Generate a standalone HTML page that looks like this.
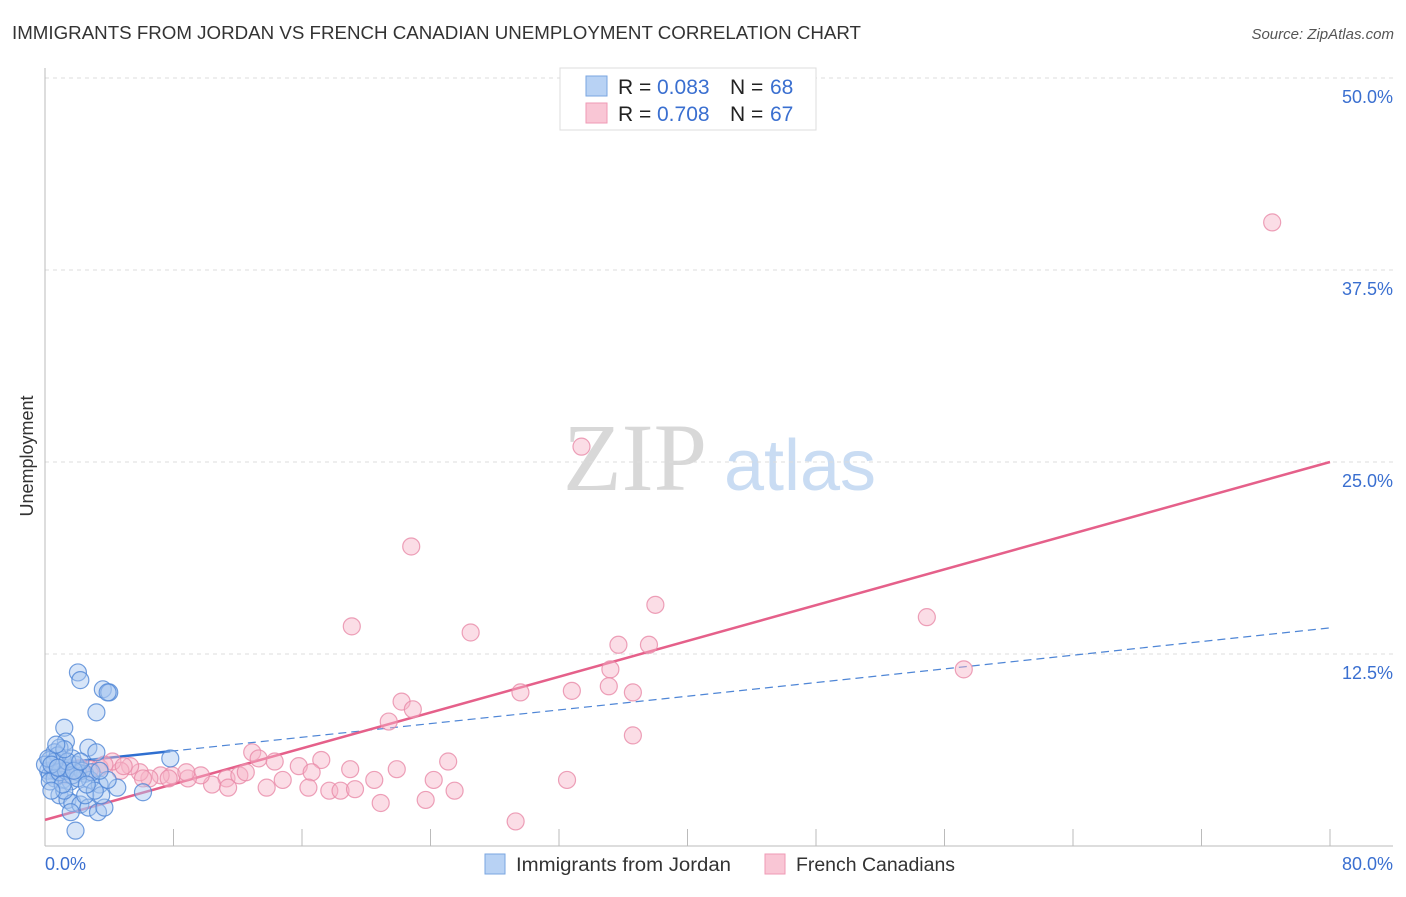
<!DOCTYPE html>
<html><head><meta charset="utf-8"><style>
body{margin:0;background:#fff;font-family:"Liberation Sans",sans-serif;}
</style></head><body>
<svg width="1406" height="892" xmlns="http://www.w3.org/2000/svg">
<text x="12" y="39" font-size="18" fill="#333" textLength="849" lengthAdjust="spacingAndGlyphs">IMMIGRANTS FROM JORDAN VS FRENCH CANADIAN UNEMPLOYMENT CORRELATION CHART</text>
<text x="1394" y="39" font-size="15" fill="#555" font-style="italic" text-anchor="end">Source: ZipAtlas.com</text>
<text transform="translate(33,456) rotate(-90)" font-size="18" fill="#333" text-anchor="middle">Unemployment</text>
<g>
<text x="635" y="490" font-size="96" fill="#d8d8d8" font-family="Liberation Serif,serif" text-anchor="middle">ZIP</text>
<text x="800" y="490" font-size="72" fill="#c9dcf3" text-anchor="middle">atlas</text>
</g>
<g id="grid"></g><g id="axes"></g><g id="trend"></g><g id="pts"></g>
<g>
<rect x="560" y="68" width="256" height="62" fill="#fff" stroke="#ddd"/>
<rect x="586" y="76" width="21" height="20" fill="#b8d2f4" stroke="#7aa6e0"/>
<rect x="586" y="103" width="21" height="20" fill="#f9c6d5" stroke="#ef9ab5"/>
<text x="618" y="94" font-size="21" fill="#222">R =</text><text x="657" y="94" font-size="21" fill="#3a6fd0">0.083</text>
<text x="730" y="94" font-size="21" fill="#222">N =</text><text x="770" y="94" font-size="21" fill="#3a6fd0">68</text>
<text x="618" y="121" font-size="21" fill="#222">R =</text><text x="657" y="121" font-size="21" fill="#3a6fd0">0.708</text>
<text x="730" y="121" font-size="21" fill="#222">N =</text><text x="770" y="121" font-size="21" fill="#3a6fd0">67</text>
</g>
<g>
<rect x="485" y="854" width="20" height="20" fill="#b8d2f4" stroke="#7aa6e0"/>
<text x="516" y="871" font-size="19" fill="#333" textLength="215" lengthAdjust="spacingAndGlyphs">Immigrants from Jordan</text>
<rect x="765" y="854" width="20" height="20" fill="#f9c6d5" stroke="#ef9ab5"/>
<text x="796" y="871" font-size="19" fill="#333" textLength="159" lengthAdjust="spacingAndGlyphs">French Canadians</text>
</g>
</svg>
<script>
const yTicks=[12.5,25,37.5,50];
const yTickLabels=["12.5%","25.0%","37.5%","50.0%"];
const xTickCount=[0,8,16,24,32,40,48,56,64,72,80];
const jordanX=[2.05,2.2,3.6,4.0,3.9,3.2,1.2,1.3,0.9,2.7,3.2,7.8,0.6,0.3,0.5,0.9,0.2,0.8,1.4,1.9,2.05,2.5,1.1,1.6,2.8,3.4,4.5,6.1,0.9,1.4,1.7,2.2,2.7,3.3,3.7,1.6,1.9,0.3,0.6,1.1,0.0,1.7,2.3,2.9,0.8,0.3,1.2,3.5,2.5,0.9,1.3,1.7,0.6,0.2,0.4,2.05,1.1,3.1,3.9,1.4,0.8,1.8,2.2,1.2,0.7,2.6,0.4,3.4];
const jordanY=[11.3,10.8,10.2,10.0,10.0,8.7,7.7,6.8,6.4,6.4,6.1,5.7,6.1,5.6,4.9,5.3,4.9,4.8,5.1,5.3,4.8,4.7,4.3,4.2,4.3,4.0,3.8,3.5,3.3,3.0,2.8,2.7,2.5,2.2,2.5,2.2,1.0,4.6,4.4,5.6,5.3,5.7,4.9,4.8,5.9,4.2,3.6,3.3,3.3,4.8,4.9,4.6,5.5,5.7,5.3,4.4,4.0,3.6,4.3,5.5,5.1,4.9,5.5,6.3,6.6,4.0,3.6,4.9];
const frenchX=[76.4,33.4,22.8,19.1,26.5,38.0,54.9,35.7,37.6,35.2,57.2,29.6,32.8,35.1,36.6,22.2,22.9,21.4,36.6,12.9,13.3,14.3,15.8,17.2,16.6,19.0,21.9,25.1,20.5,24.2,32.5,13.8,16.4,17.7,18.4,19.3,20.9,23.7,25.5,29.3,11.3,10.4,11.4,12.1,9.7,8.9,7.9,7.2,6.5,5.9,5.3,4.7,4.2,3.4,2.8,2.2,1.6,0.9,8.8,7.7,12.5,14.8,6.1,3.7,0.6,1.2,4.9];
const frenchY=[40.6,26.0,19.5,14.3,13.9,15.7,14.9,13.1,13.1,11.5,11.5,10.0,10.1,10.4,10.0,9.4,8.9,8.1,7.2,6.1,5.7,5.5,5.2,5.6,4.8,5.0,5.0,5.5,4.3,4.3,4.3,3.8,3.8,3.6,3.6,3.7,2.8,3.0,3.6,1.6,4.4,4.0,3.8,4.6,4.6,4.4,4.6,4.6,4.4,4.8,5.2,4.9,5.5,5.1,5.0,5.1,4.9,4.9,4.8,4.4,4.8,4.3,4.4,5.3,5.1,4.6,5.2];
const jordanTrend=[5.3,14.2];
const frenchTrend=[1.7,25.0];
const jordanSolidEnd=7.8;

const NS="http://www.w3.org/2000/svg";
const X=v=>45+v/80*1285;
const Y=v=>846-v/12.5*192;
function mk(tag,attrs,parent){const e=document.createElementNS(NS,tag);for(const k in attrs)e.setAttribute(k,attrs[k]);parent.appendChild(e);return e;}
const grid=document.getElementById('grid'),axes=document.getElementById('axes'),trend=document.getElementById('trend'),pts=document.getElementById('pts');
yTicks.forEach((t,i)=>{
 const l=mk('line',{x1:45,x2:1393,y1:Y(t),y2:Y(t),stroke:'#dcdcdc','stroke-dasharray':'4,4'},grid);
 
 
 const tx=mk('text',{x:1393,y:Y(t)+25,'font-size':18,fill:'#3a6fd0','text-anchor':'end'},grid);
 tx.textContent=yTickLabels[i];
 
 
});
let a=mk('line',{x1:45,x2:45,y1:68,y2:846,stroke:'#bbb'},axes);


a=mk('line',{x1:45,x2:1393,y1:846,y2:846,stroke:'#bbb'},axes);


xTickCount.forEach(t=>{
 if(t===0)return;
 const l=mk('line',{x1:X(t),x2:X(t),y1:829,y2:846,stroke:'#bbb'},axes);
 
 
});
let xl=mk('text',{x:45,y:870,'font-size':18,fill:'#3a6fd0'},axes);xl.textContent='0.0%';


xl=mk('text',{x:1393,y:870,'font-size':18,fill:'#3a6fd0','text-anchor':'end'},axes);xl.textContent='80.0%';



function series(xs,ys,fill,stroke,name){
 xs.forEach((x,i)=>{
  const c=mk('circle',{cx:X(x),cy:Y(ys[i]),r:8.5,fill:fill,'fill-opacity':0.45,stroke:stroke,'stroke-opacity':0.8,'stroke-width':1.2},pts);
  
  
 });
}
series(frenchX,frenchY,'#f6b3c8','#e889a8','french-canadian-point');
series(jordanX,jordanY,'#a7c6f0','#4f86d6','jordan-point');
const jy=x=>jordanTrend[0]+(jordanTrend[1]-jordanTrend[0])*x/80;
let t=mk('line',{x1:X(0),y1:Y(jordanTrend[0]),x2:X(jordanSolidEnd),y2:Y(jy(jordanSolidEnd)),stroke:'#2f6fd0','stroke-width':2.5},trend);


t=mk('line',{x1:X(jordanSolidEnd),y1:Y(jy(jordanSolidEnd)),x2:X(80),y2:Y(jordanTrend[1]),stroke:'#4f86d6','stroke-width':1.2,'stroke-dasharray':'8,5'},trend);


t=mk('line',{x1:X(0),y1:Y(frenchTrend[0]),x2:X(80),y2:Y(frenchTrend[1]),stroke:'#e5608a','stroke-width':2.5},trend);


</script>
</body></html>
